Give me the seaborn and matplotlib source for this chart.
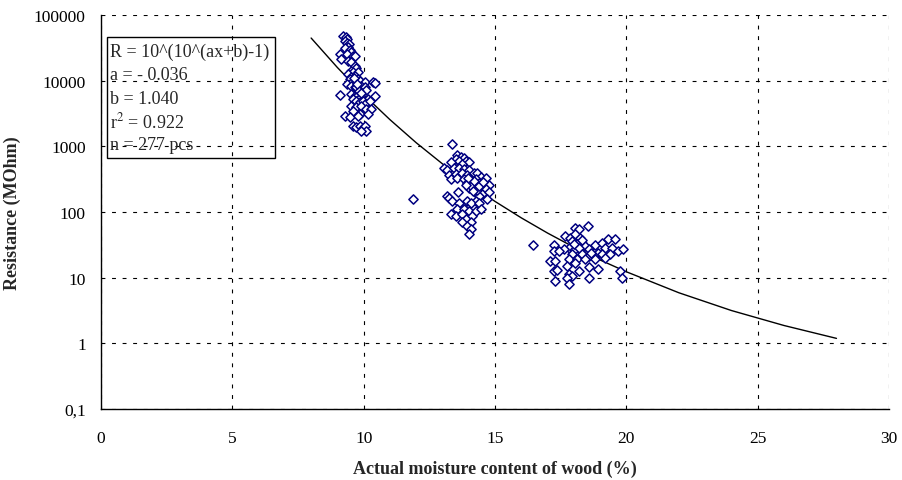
import numpy as np
import pandas as pd
import matplotlib
matplotlib.use("Agg")
import matplotlib.pyplot as plt
from matplotlib.patches import Rectangle
from matplotlib.ticker import FixedLocator, FixedFormatter, NullLocator
import seaborn as sb

# measured points: moisture content (%) and resistance (MOhm)
dry_x = [9.22, 9.31, 9.38, 9.28, 9.35, 9.43, 9.41, 9.28, 9.47, 9.53, 9.09, 9.35, 9.60, 9.66,
         9.15, 9.41, 9.53, 9.66, 9.72, 9.51, 9.60, 9.79, 9.41, 9.53, 9.66, 9.79, 9.47, 9.56,
         9.72, 9.85, 10.04, 10.35, 10.42, 9.35, 9.53, 9.66, 9.91, 10.04, 10.10, 9.09, 9.53,
         9.66, 9.79, 9.60, 9.91, 9.72, 10.16, 10.42, 9.85, 9.97, 10.04, 10.23, 9.53, 9.72,
         9.91, 10.10, 10.29, 9.60, 9.85, 9.28, 9.47, 9.79, 10.16, 9.60, 9.72, 9.85, 9.97,
         10.04, 10.10, 9.91, 9.70, 9.82, 9.64, 9.88, 9.76]
dry_y = [47300, 45700, 43100, 40600, 37400, 36100, 32100, 31000, 29600, 27600, 25400, 25400,
         24000, 24000, 21300, 20100, 19000, 16900, 15400, 14200, 13700, 13400, 12600, 11200,
         11900, 10600, 10600, 9640, 9640, 9970, 9420, 9640, 9190, 8870, 8370, 7890, 8370,
         7890, 7270, 6030, 6250, 5890, 6030, 5250, 5560, 4940, 5250, 5890, 4670, 4940, 4400,
         4940, 4150, 3920, 4060, 3690, 3690, 3480, 3100, 2920, 2750, 2860, 3100, 2010, 1940,
         2010, 1870, 2050, 1730, 1730, 8000, 7000, 11000, 6500, 9000]

mid_x = [13.36, 13.57, 13.70, 13.51, 13.83, 13.64, 13.89, 14.02, 13.76, 13.32, 13.07, 13.19,
         13.45, 13.64, 13.83, 14.02, 13.26, 13.51, 13.76, 13.95, 14.20, 14.33, 14.46, 14.65,
         13.32, 13.57, 13.83, 14.08, 14.27, 13.95, 14.14, 14.39, 14.58, 14.77, 14.02, 14.20,
         14.46, 14.65, 14.27, 14.52, 14.77, 14.39, 14.71, 13.61, 13.16, 13.26, 13.38, 13.64,
         13.95, 14.27, 14.08, 14.39, 13.57, 13.83, 14.02, 14.27, 14.46, 13.32, 13.51, 13.76,
         14.14, 13.89, 13.76, 14.08, 13.95, 14.08, 14.02, 11.87, 14.10, 14.30, 14.20, 13.98,
         14.40, 14.15, 14.55, 13.90]
mid_y = [1080, 743, 692, 638, 661, 588, 601, 568, 535, 568, 465, 434, 476, 476, 449, 434,
         368, 377, 386, 368, 399, 386, 343, 335, 316, 335, 316, 305, 316, 281, 265, 281, 265,
         259, 236, 231, 236, 223, 198, 191, 205, 176, 157, 205, 176, 162, 148, 139, 148, 148,
         135, 135, 110, 110, 102, 102, 110, 92.5, 87.3, 92.5, 87.3, 77.6, 71.6, 69.2, 61.4,
         54.7, 47.0, 157, 250, 220, 300, 330, 245, 210, 290, 260]

wet_x = [18.53, 18.06, 18.18, 17.68, 17.87, 18.06, 18.25, 17.93, 18.31, 18.12, 18.43, 17.80,
         17.61, 17.99, 18.18, 18.56, 18.81, 19.07, 19.32, 19.57, 19.19, 19.44, 18.94, 19.70,
         19.89, 17.23, 17.23, 17.42, 17.93, 18.31, 18.56, 18.75, 19.07, 19.38, 17.80, 18.12,
         18.43, 18.81, 19.19, 17.11, 17.30, 17.74, 18.06, 18.56, 18.94, 18.18, 17.23, 17.36,
         17.80, 17.93, 17.74, 18.56, 19.76, 19.82, 17.30, 17.80, 16.45, 18.30, 18.00, 18.65]
wet_y = [61.5, 58.0, 54.7, 43.3, 40.8, 45.9, 40.8, 36.3, 34.3, 32.3, 30.5, 28.7, 27.1, 26.2,
         28.1, 27.1, 31.6, 34.3, 38.5, 38.5, 28.7, 28.7, 24.1, 25.6, 27.1, 31.6, 25.6, 25.6,
         22.7, 22.7, 21.4, 21.4, 22.7, 22.7, 19.1, 19.1, 19.1, 19.1, 20.2, 18.0, 18.0, 15.1,
         17.0, 14.3, 13.4, 12.7, 12.7, 13.0, 11.3, 10.6, 10.0, 10.0, 12.7, 10.0, 8.9, 8.1,
         31.5, 37.0, 33.0, 24.0]

# fitted curve as drawn
fit_x = [8, 9, 10, 11, 12, 13, 14, 15, 16, 17, 18, 19, 20, 22, 24, 26, 28]
fit_y = [44600, 15850, 6110, 2550, 1135, 541, 273, 145, 81.5, 47.8, 29.2, 18.6, 12.3,
         5.89, 3.16, 1.87, 1.19]

y_ticks = [0.1, 1, 10, 100, 1000, 10000, 100000]
y_labels = ["0,1", "1", "10", "100", "1000", "10000", "100000"]
box_lines = ["R = 10^(10^(ax+b)-1)", "a = - 0.036", "b = 1.040", "r$^2$ = 0.922", "n = 277 pcs"]

points = pd.DataFrame({"moisture": dry_x + mid_x + wet_x,
                       "resistance": dry_y + mid_y + wet_y})

sb.set_style("white")
plt.rcParams["font.family"] = ["Liberation Serif", "DejaVu Serif"]
plt.rcParams["mathtext.fontset"] = "stix"

fig = plt.figure(figsize=(9.02, 4.81), dpi=100)
ax = fig.add_axes([101 / 902, 1 - 410 / 481, 788 / 902, 394 / 481])

sb.lineplot(x=fit_x, y=fit_y, color="black", linewidth=1.0, ax=ax, zorder=2)
sb.scatterplot(data=points, x="moisture", y="resistance", marker="D", s=22,
               facecolor="white", edgecolor="#000080", linewidth=1.1, ax=ax, zorder=3)

ax.set_yscale("log")
ax.set_xlim(0, 30)
ax.set_ylim(0.1, 100000)
ax.xaxis.set_major_locator(FixedLocator([0, 5, 10, 15, 20, 25, 30]))
ax.yaxis.set_major_locator(FixedLocator(y_ticks))
ax.yaxis.set_major_formatter(FixedFormatter(y_labels))
ax.yaxis.set_minor_locator(NullLocator())
ax.tick_params(axis="both", direction="inout", length=6, width=1, labelsize=12.5,
               colors="black", pad=8)
ax.tick_params(axis="x", pad=12)

ax.grid(True, color="black", linestyle=(0, (3.5, 6)), linewidth=0.8)
for side in ["top", "right"]:
    ax.spines[side].set_visible(False)
for side in ["left", "bottom"]:
    ax.spines[side].set_color("black")
    ax.spines[side].set_linewidth(1.0)

ax.set_xlabel("Actual moisture content of wood (%)", fontsize=13, fontweight="bold", labelpad=10)
ax.set_ylabel("Resistance (MOhm)", fontsize=13, fontweight="bold", labelpad=9)

# equation box
fig.patches.append(Rectangle((107 / 902, 1 - 159 / 481), 168 / 902, 121 / 481,
                             transform=fig.transFigure, fill=False, edgecolor="black",
                             linewidth=1.0))
for i, line in enumerate(box_lines):
    fig.text(110 / 902, 1 - (52 + 23.5 * i) / 481, line, fontsize=13, va="center", ha="left")

plt.savefig("out.png", dpi=100)
